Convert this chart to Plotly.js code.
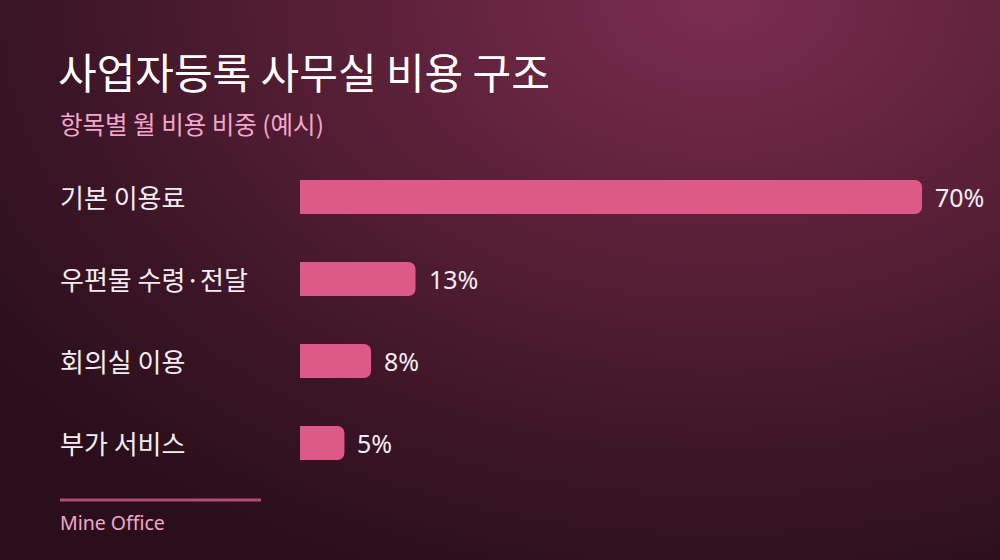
<!DOCTYPE html>
<html>
<head>
<meta charset="utf-8">
<script src="https://cdn.plot.ly/plotly-3.0.1.min.js"></script>
<style>
html, body { margin:0; padding:0; width:1000px; height:560px; overflow:hidden; }
body {
  background: radial-gradient(ellipse 900px 620px at 720px 0px, #7b2d50 0%, #5a2038 40%, #3b1526 75%, #2a0f1a 100%);
}
#chart { width:1000px; height:560px; }
</style>
</head>
<body>
<div id="chart"></div>
<script>
const categories = ["기본 이용료", "우편물 수령·전달", "회의실 이용", "부가 서비스"];
const values = [70, 13, 8, 5];
const valueLabels = ["70%", "13%", "8%", "5%"];
const titleText = "사업자등록 사무실 비용 구조";
const subtitleText = "항목별 월 비용 비중 (예시)";
const sourceText = "Mine Office";

const KFONT = "'Noto Sans CJK KR', 'Noto Sans', sans-serif";
const LFONT = "'Noto Sans', 'Noto Sans CJK KR', sans-serif";

// plot area in pixels: x 300..990, y 156..484
function px2paperX(px) { return (px - 300) / 690; }
function px2paperY(py) { return (484 - py) / 328; }

const trace = {
  type: "bar",
  orientation: "h",
  x: values,
  y: categories,
  width: 0.415,
  marker: { color: "#dc5a85", line: { width: 0 } },
  hoverinfo: "skip"
};

const annotations = [];
categories.forEach((c, i) => {
  annotations.push({
    xref: "paper", x: px2paperX(58), xanchor: "left",
    yref: "y", y: c, yanchor: "middle", yshift: 1,
    text: c, showarrow: false,
    font: { family: KFONT, size: 26, color: "#f4eef2" }
  });
  annotations.push({
    xref: "x", x: values[i], xanchor: "left", xshift: 11,
    yref: "y", y: c, yanchor: "middle",
    text: valueLabels[i], showarrow: false,
    font: { family: LFONT, size: 25, color: "#f4eef2" }
  });
});
annotations.push(
  { xref: "paper", yref: "paper", x: px2paperX(56), y: px2paperY(70), xanchor: "left", yanchor: "middle",
    showarrow: false, text: titleText, font: { family: KFONT, size: 42, color: "#ffffff" } },
  { xref: "paper", yref: "paper", x: px2paperX(58), y: px2paperY(123), xanchor: "left", yanchor: "middle",
    showarrow: false, text: subtitleText, font: { family: KFONT, size: 24.5, color: "#f2a6cc" } },
  { xref: "paper", yref: "paper", x: px2paperX(58), y: px2paperY(522), xanchor: "left", yanchor: "middle",
    showarrow: false, text: sourceText, font: { family: LFONT, size: 19.5, color: "#f2a6cc" } }
);

const layout = {
  width: 1000, height: 560,
  margin: { l: 300, r: 10, t: 156, b: 76 },
  paper_bgcolor: "rgba(0,0,0,0)",
  plot_bgcolor: "rgba(0,0,0,0)",
  barcornerradius: 7,
  showlegend: false,
  xaxis: { range: [0, 77.65], visible: false, fixedrange: true },
  yaxis: { type: "category", autorange: "reversed", visible: false, fixedrange: true },
  annotations: annotations,
  shapes: [
    { type: "line", xref: "paper", yref: "paper",
      x0: px2paperX(60), x1: px2paperX(261), y0: px2paperY(500), y1: px2paperY(500),
      line: { color: "#b24a7a", width: 3 } }
  ]
};

Plotly.newPlot("chart", [trace], layout, { displayModeBar: false, staticPlot: true });
</script>
</body>
</html>
